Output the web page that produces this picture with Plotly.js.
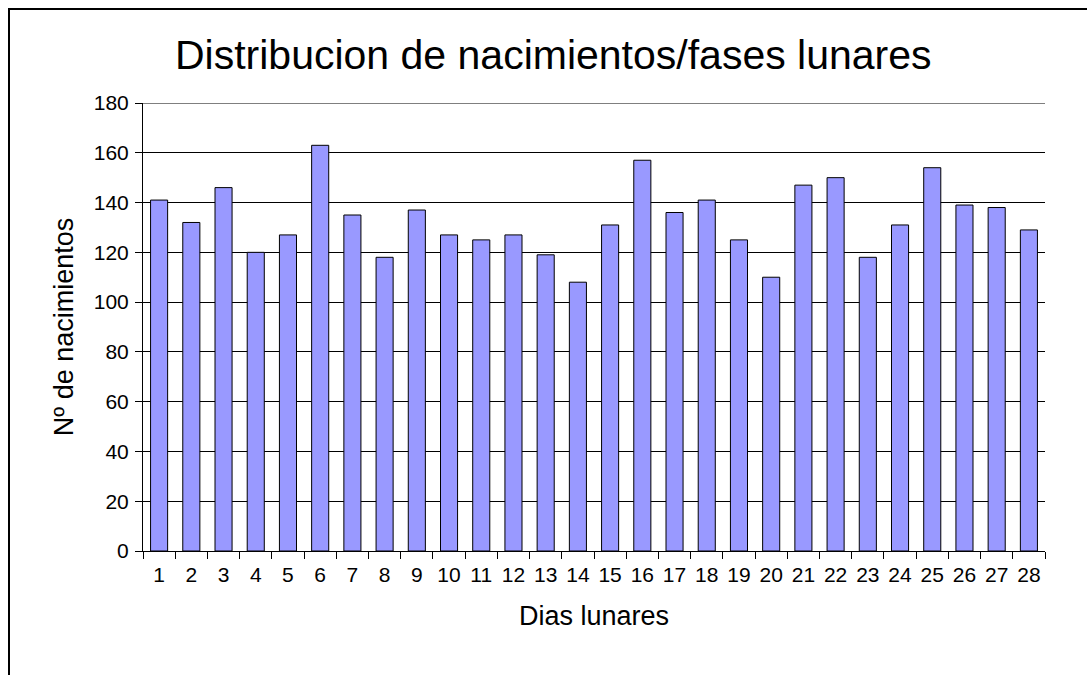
<!DOCTYPE html>
<html>
<head>
<meta charset="utf-8">
<script src="https://cdn.plot.ly/plotly-3.0.1.min.js"></script>
<style>
  html, body { margin: 0; padding: 0; background: #fff; }
  #wrap { position: relative; width: 1087px; height: 675px; }
  #chart { position: absolute; left: 0; top: 0; width: 1087px; height: 675px; }
  #frame { position: absolute; left: 8px; top: 8px; width: 1100px; height: 700px;
           border-left: 2px solid #000; border-top: 2px solid #000; pointer-events: none; }
</style>
</head>
<body>
<div id="wrap">
  <div id="chart"></div>
  <div id="frame"></div>
</div>
<script>
const dias = ['1','2','3','4','5','6','7','8','9','10','11','12','13','14','15','16','17','18','19','20','21','22','23','24','25','26','27','28'];
const nacimientos = [141,132,146,120,127,163,135,118,137,127,125,127,119,108,131,157,136,141,125,110,147,150,118,131,154,139,138,129];
const titulo = 'Distribucion de nacimientos/fases lunares';
const tituloX = 'Dias lunares';
const tituloY = 'Nº de nacimientos';
const yMax = 180;

const font = 'Arial, "Liberation Sans", sans-serif';

const trace = {
  type: 'bar',
  x: dias,
  y: nacimientos,
  marker: { color: '#9999FF', line: { color: '#000000', width: 1 } },
  hoverinfo: 'x+y'
};

const layout = {
  width: 1087,
  height: 675,
  paper_bgcolor: '#ffffff',
  plot_bgcolor: '#ffffff',
  margin: { l: 143, r: 42, t: 103, b: 124, pad: 0 },
  bargap: 0.47,
  showlegend: false,
  font: { family: font, color: '#000' },
  title: {
    text: titulo,
    font: { family: font, size: 41, color: '#000' },
    xref: 'container', yref: 'container',
    x: 0.509, y: 0.919, xanchor: 'center', yanchor: 'middle'
  },
  xaxis: {
    type: 'category',
    title: { text: tituloX, font: { family: font, size: 27, color: '#000' }, standoff: 20 },
    tickfont: { family: font, size: 21, color: '#000' },
    tickangle: 0,
    ticklabelstandoff: 5,
    showline: true, linecolor: '#000', linewidth: 1,
    ticks: 'outside', ticklen: 7, tickcolor: '#000', tickwidth: 1,
    tickson: 'boundaries',
    showgrid: false,
    automargin: false
  },
  yaxis: {
    range: [0, yMax],
    dtick: 20,
    tick0: 0,
    title: { text: tituloY, font: { family: font, size: 27, color: '#000' }, standoff: 12 },
    tickfont: { family: font, size: 21, color: '#000' },
    ticklabelstandoff: 2,
    showline: true, linecolor: '#000', linewidth: 1,
    ticks: 'outside', ticklen: 7, tickcolor: '#000', tickwidth: 1,
    showgrid: true, gridcolor: '#000', gridwidth: 1,
    zeroline: false,
    automargin: false
  },
  shapes: [{
    type: 'line', xref: 'paper', yref: 'y',
    x0: 0, x1: 1, y0: yMax, y1: yMax,
    line: { color: '#000', width: 1 }, layer: 'below'
  }]
};

Plotly.newPlot('chart', [trace], layout, { displayModeBar: false, staticPlot: true });
</script>
</body>
</html>
